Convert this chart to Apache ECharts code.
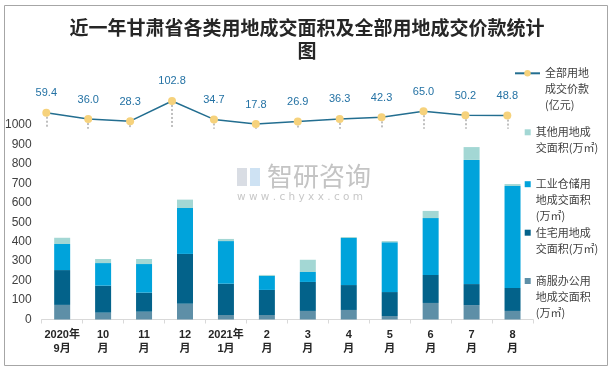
<!DOCTYPE html>
<html>
<head>
<meta charset="utf-8">
<script src="https://cdn.jsdelivr.net/npm/echarts@6/dist/echarts.min.js"></script>
<style>
html,body{margin:0;padding:0;background:#fff;}
#chart{width:614px;height:371px;}
</style>
</head>
<body>
<div id="chart"></div>
<script>
// ---- data ----
const categories = ['2020年\n9月','10\n月','11\n月','12\n月','2021年\n1月','2\n月','3\n月','4\n月','5\n月','6\n月','7\n月','8\n月'];
const commercial = [75, 35, 40, 81, 23, 23, 44, 49, 18, 85, 74, 44];     // 商服办公
const residential = [179, 139, 98, 256, 161, 129, 149, 128, 123, 144, 108, 118]; // 住宅
const industrial = [134, 116, 147, 236, 219, 72, 51, 242, 256, 292, 638, 524];  // 工业仓储
const other = [32, 21, 26, 43, 11, 5, 63, 5, 6, 37, 66, 10];             // 其他
const price = [59.4, 36.0, 28.3, 102.8, 34.7, 17.8, 26.9, 36.3, 42.3, 65.0, 50.2, 48.8]; // 价款(亿元)
const yMin = 0, yMax = 1000, yInterval = 100;

const names = {
  price: '全部用地成交价款(亿元)',
  other: '其他用地成交面积(万㎡)',
  industrial: '工业仓储用地成交面积(万㎡)',
  residential: '住宅用地成交面积(万㎡)',
  commercial: '商服办公用地成交面积(万㎡)'
};
const legendText = {};
legendText[names.price] = ['全部用地', '成交价款', '(亿元)'];
legendText[names.other] = ['其他用地成', '交面积(万㎡)'];
legendText[names.industrial] = ['工业仓储用', '地成交面积', '(万㎡)'];
legendText[names.residential] = ['住宅用地成', '交面积(万㎡)'];
legendText[names.commercial] = ['商服办公用', '地成交面积', '(万㎡)'];

const colors = {
  commercial: '#5e8fa7',
  residential: '#03628a',
  industrial: '#00a3db',
  other: '#a3d7d4',
  line: '#236e90',
  dot: '#f6d27c'
};

const LH = 16;
function fmt(name) {
  const lines = legendText[name];
  const pad = new Array(lines.length - 1).fill('').join('\n');
  return (lines.length > 1 ? pad + '\n' : '') + lines.join('\n');
}
function legendAt(name, firstLineY, isLine) {
  const n = legendText[name].length;
  return {
    data: [name],
    orient: 'vertical',
    left: isLine ? 514 : 524.7,
    top: firstLineY - (n - 0.5) * LH,
    padding: 0,
    itemWidth: isLine ? 25 : 6,
    itemHeight: isLine ? 8 : 6,
    icon: isLine ? undefined : 'rect',
    formatter: fmt,
    textStyle: {fontSize: 11, lineHeight: LH, color: '#404040', fontFamily: 'Noto Sans CJK SC'}
  };
}

const chart = echarts.init(document.getElementById('chart'));
const option = {
  animation: false,
  backgroundColor: '#fff',
  title: {
    text: '近一年甘肃省各类用地成交面积及全部用地成交价款统计\n图',
    left: 'center',
    top: 16,
    padding: 0,
    textStyle: {fontSize: 19, fontWeight: 'bold', lineHeight: 23, color: '#262626', fontFamily: 'Noto Sans CJK SC'}
  },
  legend: [
    legendAt(names.price, 73.3, true),
    legendAt(names.other, 132.3),
    legendAt(names.industrial, 184.2),
    legendAt(names.residential, 232.7),
    legendAt(names.commercial, 281)
  ],
  grid: [
    {left: 41.7, right: 81, top: 124.9, bottom: 51.5},
    {left: 25.35, right: 85.75, top: 99, bottom: 242.2}
  ],
  xAxis: [
    {
      type: 'category', gridIndex: 0, data: categories,
      axisLine: {lineStyle: {color: '#d9d9d9'}},
      axisTick: {show: true, length: 4, lineStyle: {color: '#d9d9d9'}},
      axisLabel: {interval: 0, fontSize: 11, fontWeight: 'bold', color: '#262626', lineHeight: 14.5, margin: 8,
        fontFamily: 'Liberation Sans, Noto Sans CJK SC'}
    },
    {type: 'category', gridIndex: 1, data: categories, show: false}
  ],
  yAxis: [
    {
      type: 'value', gridIndex: 0, min: yMin, max: yMax, interval: yInterval,
      axisLine: {show: false}, axisTick: {show: false}, splitLine: {show: false},
      axisLabel: {fontSize: 12, color: '#404040', margin: 10, fontFamily: 'Liberation Sans',
        formatter: v => String(v)}
    },
    {type: 'value', gridIndex: 1, min: 0, max: 110, show: false, splitLine: {show: false}}
  ],
  series: [
    {name: names.commercial, type: 'bar', stack: 'a', barWidth: 16, data: commercial, itemStyle: {color: colors.commercial}},
    {name: names.residential, type: 'bar', stack: 'a', barWidth: 16, data: residential, itemStyle: {color: colors.residential}},
    {name: names.industrial, type: 'bar', stack: 'a', barWidth: 16, data: industrial, itemStyle: {color: colors.industrial}},
    {name: names.other, type: 'bar', stack: 'a', barWidth: 16, data: other, itemStyle: {color: colors.other}},
    {
      name: names.price, type: 'line', xAxisIndex: 1, yAxisIndex: 1, data: price, z: 5,
      symbol: 'circle', symbolSize: 8,
      lineStyle: {color: colors.line, width: 1.5},
      itemStyle: {color: colors.dot},
      label: {show: true, position: 'top', distance: 10, fontSize: 11, color: '#2472a4',
        fontFamily: 'Liberation Sans', formatter: p => p.value.toFixed(1)},
      markLine: {
        silent: true, z: 1, symbol: ['none', 'none'],
        label: {show: false},
        lineStyle: {type: 'dotted', color: '#bfbfbf', width: 2},
        data: price.map((v, i) => [{coord: [i, v]}, {coord: [i, 0]}])
      }
    }
  ],
  graphic: [
    {type: 'rect', shape: {x: 4.5, y: 5.5, width: 603, height: 360}, style: {fill: 'none', stroke: '#a6a6a6', lineWidth: 1}, silent: true},
    {type: 'rect', shape: {x: 237, y: 168, width: 10, height: 18}, style: {fill: '#c9ced8', opacity: 0.7}, silent: true},
    {type: 'rect', shape: {x: 250, y: 168, width: 10, height: 18}, style: {fill: '#b9d6ee', opacity: 0.7}, silent: true},
    {type: 'text', left: 267, top: 163, style: {text: '智研咨询', fontSize: 26, fill: '#c4c4c4', fontFamily: 'Noto Sans CJK SC'}, silent: true},
    {type: 'text', left: 237, top: 192, style: {text: 'w w w . c h y x x . c o m', fontSize: 10.5, fill: '#c8c8c8', fontFamily: 'DejaVu Sans'}, silent: true}
  ]
};
chart.setOption(option);
</script>
</body>
</html>
